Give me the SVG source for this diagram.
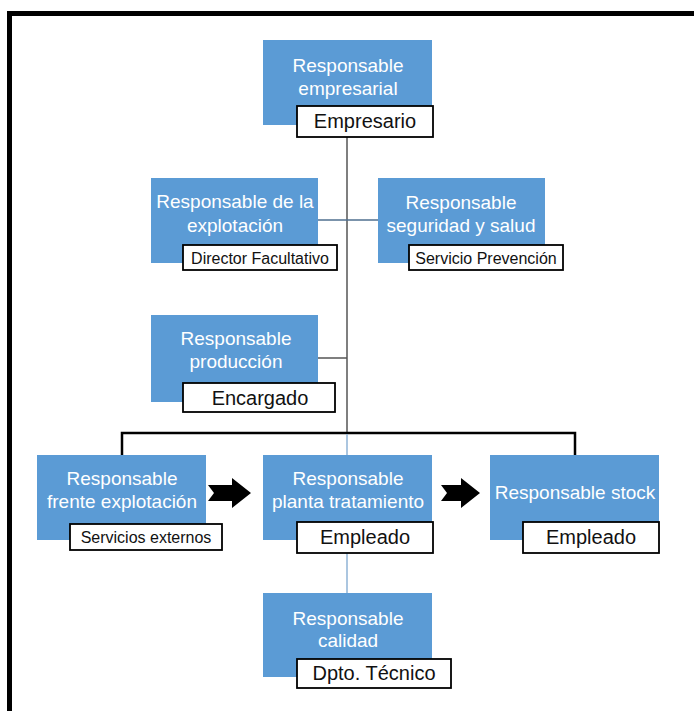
<svg xmlns="http://www.w3.org/2000/svg" width="694" height="711" viewBox="0 0 694 711">
  <style>
    .box { fill: #5B9BD5; }
    .lbl { fill: #ffffff; stroke: #000000; stroke-width: 1.8; }
    .t { font-family: "Liberation Sans", Arial, sans-serif; font-size: 19px; fill: #ffffff; text-anchor: middle; }
    .l { font-family: "Liberation Sans", Arial, sans-serif; font-size: 20px; fill: #111111; text-anchor: middle; }
    .ls { font-family: "Liberation Sans", Arial, sans-serif; font-size: 16px; fill: #111111; text-anchor: middle; }
    .dark { stroke: #555555; stroke-width: 1.5; fill: none; }
    .mid { stroke: #4F6F8F; stroke-width: 1.5; fill: none; }
    .blue { stroke: #8FB3D6; stroke-width: 1.5; fill: none; }
    .blk { stroke: #000000; stroke-width: 2.5; fill: none; }
  </style>
  <rect x="0" y="0" width="694" height="711" fill="#ffffff"/>
  <path d="M9.5,711 V13.5 H694" fill="none" stroke="#000000" stroke-width="5"/>

  <g id="connectors">
    <line class="dark" x1="347" y1="137" x2="347" y2="433"/>
    <line class="mid" x1="318" y1="220" x2="378" y2="220"/>
    <line class="dark" x1="318" y1="358" x2="347" y2="358"/>
    <path class="blk" d="M122,455 V433 H575 V455"/>
    <line class="blue" x1="347" y1="434" x2="347" y2="455"/>
    <line class="blue" x1="347" y1="553" x2="347" y2="593"/>
    <path d="M208,485 H232 V478 L251,493 L232,508 V501 H208 L214,493 Z" fill="#000000"/>
    <path d="M441,485 H461 V478 L480,493 L461,508 V501 H441 L447,493 Z" fill="#000000"/>
  </g>

  <g id="empresarial">
    <rect class="box" x="263" y="40" width="169" height="85"/>
    <text class="t" x="348" y="72">Responsable</text>
    <text class="t" x="348" y="95">empresarial</text>
    <rect class="lbl" x="297" y="106" width="136" height="31"/>
    <text class="l" x="365" y="128">Empresario</text>
  </g>

  <g id="explotacion">
    <rect class="box" x="151" y="178" width="167" height="85"/>
    <text class="t" x="235" y="208">Responsable de la</text>
    <text class="t" x="235" y="232">explotación</text>
    <rect class="lbl" x="183" y="245" width="154" height="25"/>
    <text class="ls" x="260" y="264">Director Facultativo</text>
  </g>

  <g id="seguridad">
    <rect class="box" x="378" y="178" width="167" height="85"/>
    <text class="t" x="461" y="209">Responsable</text>
    <text class="t" x="461" y="232">seguridad y salud</text>
    <rect class="lbl" x="409" y="245" width="154" height="25"/>
    <text class="ls" x="486" y="264">Servicio Prevención</text>
  </g>

  <g id="produccion">
    <rect class="box" x="151" y="315" width="167" height="87"/>
    <text class="t" x="236" y="345">Responsable</text>
    <text class="t" x="236" y="368">producción</text>
    <rect class="lbl" x="183" y="383" width="152" height="29"/>
    <text class="l" x="260" y="405">Encargado</text>
  </g>

  <g id="frente">
    <rect class="box" x="37" y="455" width="169" height="85"/>
    <text class="t" x="122" y="485">Responsable</text>
    <text class="t" x="122" y="508">frente explotación</text>
    <rect class="lbl" x="70" y="524" width="152" height="26"/>
    <text class="ls" x="146" y="543">Servicios externos</text>
  </g>

  <g id="planta">
    <rect class="box" x="263" y="455" width="169" height="85"/>
    <text class="t" x="348" y="485">Responsable</text>
    <text class="t" x="348" y="508">planta tratamiento</text>
    <rect class="lbl" x="297" y="522" width="136" height="31"/>
    <text class="l" x="365" y="544">Empleado</text>
  </g>

  <g id="stock">
    <rect class="box" x="490" y="455" width="169" height="85"/>
    <text class="t" x="575" y="499">Responsable stock</text>
    <rect class="lbl" x="523" y="522" width="136" height="31"/>
    <text class="l" x="591" y="544">Empleado</text>
  </g>

  <g id="calidad">
    <rect class="box" x="263" y="593" width="169" height="84"/>
    <text class="t" x="348" y="625">Responsable</text>
    <text class="t" x="348" y="647">calidad</text>
    <rect class="lbl" x="297" y="659" width="154" height="29"/>
    <text class="l" x="374" y="680">Dpto. Técnico</text>
  </g>
</svg>
